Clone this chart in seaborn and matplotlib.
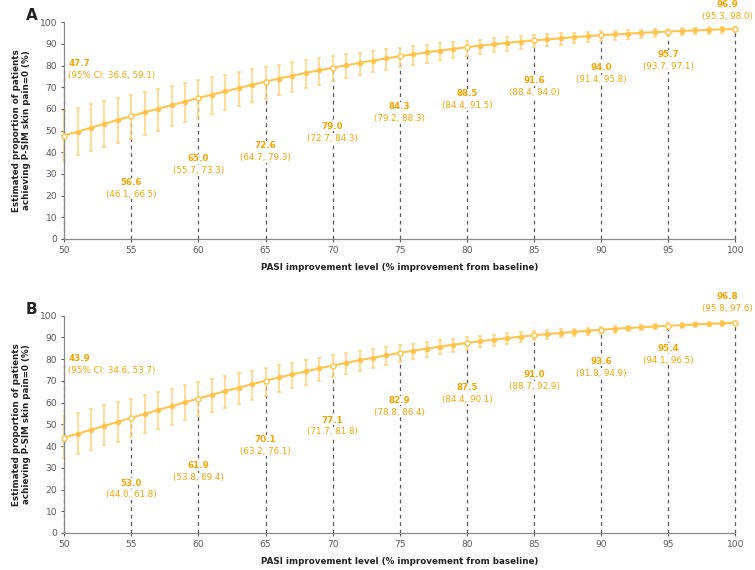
import numpy as np
import matplotlib
matplotlib.use("Agg")
import matplotlib.pyplot as plt
import seaborn as sns
import pandas as pd

# PASI improvement levels (every 1%)
pasi = list(range(50, 101))

# Panel A: estimates, lower and upper 95% CI
a_est = [47.7, 49.5, 51.3, 53.1, 54.9, 56.6, 58.4, 60.1, 61.7, 63.4,
         65.0, 66.6, 68.1, 69.6, 71.1, 72.6, 74.0, 75.3, 76.6, 77.8,
         79.0, 80.1, 81.2, 82.3, 83.3, 84.3, 85.2, 86.1, 86.9, 87.7,
         88.5, 89.2, 89.8, 90.5, 91.1, 91.6, 92.1, 92.6, 93.1, 93.6,
         94.0, 94.4, 94.7, 95.1, 95.4, 95.7, 96.0, 96.2, 96.5, 96.7, 96.9]
a_lo = [36.6, 38.5, 40.4, 42.3, 44.2, 46.1, 48.1, 50.0, 51.9, 53.8,
        55.7, 57.6, 59.4, 61.2, 63.0, 64.7, 66.4, 68.0, 69.6, 71.2,
        72.7, 74.1, 75.5, 76.8, 78.0, 79.2, 80.3, 81.4, 82.5, 83.5,
        84.4, 85.3, 86.1, 86.9, 87.7, 88.4, 89.1, 89.7, 90.3, 90.9,
        91.4, 91.9, 92.4, 92.9, 93.3, 93.7, 94.1, 94.4, 94.7, 95.0, 95.3]
a_hi = [59.1, 60.6, 62.1, 63.6, 65.1, 66.5, 67.9, 69.3, 70.7, 72.0,
        73.3, 74.6, 75.8, 77.0, 78.2, 79.3, 80.4, 81.5, 82.5, 83.4,
        84.3, 85.2, 86.0, 86.8, 87.6, 88.3, 89.0, 89.7, 90.3, 90.9,
        91.5, 92.0, 92.5, 93.0, 93.5, 94.0, 94.4, 94.8, 95.1, 95.5,
        95.8, 96.1, 96.4, 96.6, 96.9, 97.1, 97.3, 97.5, 97.7, 97.8, 98.0]

# Panel B
b_est = [43.9, 45.7, 47.5, 49.3, 51.2, 53.0, 54.8, 56.6, 58.4, 60.2,
         61.9, 63.6, 65.3, 66.9, 68.5, 70.1, 71.6, 73.0, 74.4, 75.8,
         77.1, 78.3, 79.5, 80.7, 81.8, 82.9, 83.9, 84.9, 85.8, 86.7,
         87.5, 88.3, 89.0, 89.7, 90.4, 91.0, 91.6, 92.1, 92.6, 93.1,
         93.6, 94.0, 94.4, 94.7, 95.1, 95.4, 95.7, 96.0, 96.3, 96.5, 96.8]
b_lo = [34.6, 36.5, 38.4, 40.3, 42.1, 44.0, 45.9, 47.8, 49.7, 51.8,
        53.8, 55.8, 57.7, 59.6, 61.4, 63.2, 64.9, 66.6, 68.3, 70.0,
        71.7, 73.2, 74.7, 76.1, 77.5, 78.8, 80.0, 81.2, 82.3, 83.4,
        84.4, 85.4, 86.3, 87.1, 87.9, 88.7, 89.4, 90.0, 90.6, 91.2,
        91.8, 92.3, 92.8, 93.3, 93.7, 94.1, 94.5, 94.9, 95.2, 95.5, 95.8]
b_hi = [53.7, 55.4, 57.0, 58.7, 60.3, 61.8, 63.4, 64.9, 66.4, 67.9,
        69.4, 70.8, 72.1, 73.5, 74.8, 76.1, 77.3, 78.4, 79.6, 80.7,
        81.8, 82.8, 83.7, 84.7, 85.6, 86.4, 87.2, 87.9, 88.7, 89.4,
        90.1, 90.7, 91.3, 91.9, 92.4, 92.9, 93.3, 93.7, 94.1, 94.5,
        94.9, 95.2, 95.5, 95.8, 96.2, 96.5, 96.7, 96.9, 97.2, 97.4, 97.6]

# where the annotation (bold value) sits, in data units
a_label_y = [81, 26, 37, 43, 52, 61, 67, 73, 79, 85, 108]
b_label_y = [80.5, 23, 31, 43, 52, 61, 67, 73, 79, 85, 109]

line_col = "#FFC44D"
err_col = "#FFD27A"
txt_col = "#F5A300"
grey = "#595959"
fs = 6.3

sns.set_style("white")
plt.rcParams["font.family"] = ["DejaVu Sans"]

fig = plt.figure(figsize=(7.55, 5.7), dpi=100)
ax_a = fig.add_axes([0.085, 0.581, 0.889, 0.380])
ax_b = fig.add_axes([0.085, 0.065, 0.889, 0.381])


def draw_panel(ax, est, lo, hi, label_y, letter):
    df = pd.DataFrame({"pasi": pasi, "est": est, "lo": lo, "hi": hi})
    key = df[df["pasi"] % 5 == 0].reset_index(drop=True)

    # dashed drop lines
    for i, r in key.iterrows():
        top = r["est"]
        if i == 0:
            top = label_y[i] - 3
        ax.plot([r["pasi"], r["pasi"]], [0, top], ls=(0, (3, 3)),
                color=grey, lw=0.9, zorder=1, clip_on=False)

    ax.errorbar(df["pasi"], df["est"],
                yerr=[df["est"] - df["lo"], df["hi"] - df["est"]],
                fmt="none", ecolor=err_col, elinewidth=1.1, capsize=1.7,
                capthick=1.1, zorder=2, clip_on=False)
    sns.lineplot(data=df, x="pasi", y="est", ax=ax, color=line_col, lw=1.5,
                 marker="o", markersize=3.3, markeredgecolor=line_col,
                 zorder=3, clip_on=False)
    sns.scatterplot(data=key, x="pasi", y="est", ax=ax, s=13,
                    facecolor="white", edgecolor=line_col, linewidth=1.0,
                    zorder=4, clip_on=False)

    for i, r in key.iterrows():
        x = r["pasi"]
        ci = "({:.1f}, {:.1f})".format(r["lo"], r["hi"])
        if i == 0:
            ci = "(95% CI: {:.1f}, {:.1f})".format(r["lo"], r["hi"])
            ha, xx = "left", x + 0.3
        elif i == len(key) - 1:
            ha, xx = "center", x - 0.6
        else:
            ha, xx = "center", x
        ax.text(xx, label_y[i], "{:.1f}".format(r["est"]), ha=ha, va="center",
                color=txt_col, fontsize=fs, fontweight="bold", zorder=5,
                clip_on=False, bbox=dict(fc="white", ec="none", pad=0.3))
        ax.text(xx, label_y[i] - 5.5, ci, ha=ha, va="center",
                color=txt_col, fontsize=fs, zorder=5, clip_on=False,
                bbox=dict(fc="white", ec="none", pad=0.3))

    ax.set_xlim(50, 100)
    ax.set_ylim(0, 100)
    ax.set_xticks(range(50, 101, 5))
    ax.set_yticks(range(0, 101, 10))
    ax.tick_params(axis="both", labelsize=fs + 0.3, colors=grey, length=2.5,
                   direction="out", pad=2.5)
    ax.tick_params(axis="both", which="both", bottom=True, left=True)
    sns.despine(ax=ax)
    for s in ["left", "bottom"]:
        ax.spines[s].set_color("#888888")
        ax.spines[s].set_linewidth(0.9)
    ax.set_xlabel("PASI improvement level (% improvement from baseline)",
                  fontsize=fs, fontweight="bold", color="#222222", labelpad=6)
    ax.set_ylabel("Estimated proportion of patients\nachieving P-SIM skin pain=0 (%)",
                  fontsize=fs, fontweight="bold", color="#222222", labelpad=6)
    ax.text(-0.057, 1.03, letter, transform=ax.transAxes, fontsize=11,
            fontweight="bold", color="#222222", ha="left", va="center")


draw_panel(ax_a, a_est, a_lo, a_hi, a_label_y, "A")
draw_panel(ax_b, b_est, b_lo, b_hi, b_label_y, "B")

fig.savefig("out.png", dpi=100)
